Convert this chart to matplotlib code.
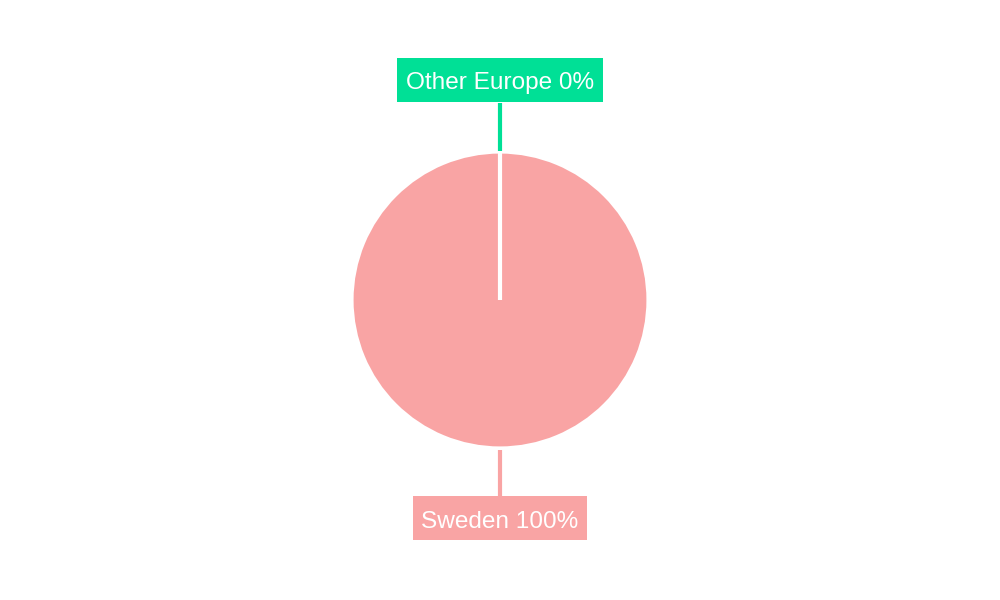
import numpy as np
from matplotlib import pyplot as plt
from matplotlib.patches import Rectangle

labels = ['Sweden', 'Other Europe']
shares = [100, 0]
colors = ['#F9A4A4', '#00E096']

fig = plt.figure(figsize=(10, 6), dpi=100)
ax = fig.add_axes([0, 0, 1, 1])

cx, cy, r = 500, 300, 148.5
wedges, _ = ax.pie(shares, colors=colors, startangle=90, counterclock=False,
                   center=(cx, cy), radius=r, frame=True,
                   wedgeprops={'edgecolor': 'white', 'linewidth': 3})
ax.set_xlim(0, 1000)
ax.set_ylim(0, 600)
ax.set_aspect('equal')
ax.axis('off')

renderer = fig.canvas.get_renderer()
for w, lab, val, col in zip(wedges, labels, shares, colors):
    mid = np.deg2rad((w.theta1 + w.theta2) / 2)
    dx, dy = np.cos(mid), np.sin(mid)
    ax.plot([cx + dx * (r + 1), cx + dx * (r + 49)],
            [cy + dy * (r + 1), cy + dy * (r + 49)],
            color=col, lw=3, solid_capstyle='butt')
    bx, by = cx + dx * (r + 70.5), cy + dy * (r + 70.5) + 1
    t = ax.text(bx, by - 9.5, f'{lab} {val}%', ha='center', va='baseline',
                color='white', fontsize=17.6, family='Liberation Sans', zorder=5)
    tw = t.get_window_extent(renderer).width
    ax.add_patch(Rectangle((bx - tw / 2 - 8.5, by - 22), tw + 17, 44,
                           facecolor=col, edgecolor='none', zorder=4))

fig.savefig('out.png', dpi=100)
